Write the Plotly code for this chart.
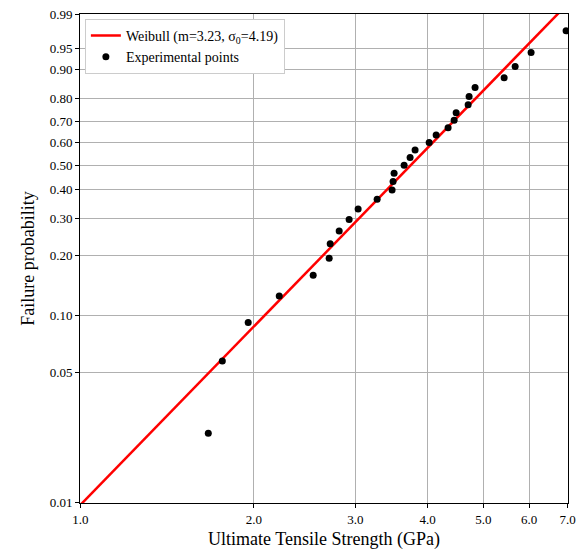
import numpy as np
import plotly.graph_objects as go

strength = [1.667, 1.763, 1.955, 2.213, 2.534, 2.701, 2.712, 2.811, 2.925, 3.032,
            3.271, 3.472, 3.486, 3.500, 3.643, 3.731, 3.806, 4.026, 4.140, 4.342,
            4.448, 4.484, 4.704, 4.722, 4.836, 5.431, 5.675, 6.048, 6.955]
prob = [0.0238, 0.0578, 0.0918, 0.1259, 0.1599, 0.1939, 0.2279, 0.2619, 0.2959, 0.3299,
        0.3639, 0.3980, 0.4320, 0.4660, 0.5000, 0.5340, 0.5680, 0.6020, 0.6361, 0.6701,
        0.7041, 0.7381, 0.7721, 0.8061, 0.8401, 0.8741, 0.9082, 0.9422, 0.9762]
m, s0 = 3.23, 4.19
x_ticks = [1.0, 2.0, 3.0, 4.0, 5.0, 6.0, 7.0]
y_ticks = [0.01, 0.05, 0.10, 0.20, 0.30, 0.40, 0.50, 0.60, 0.70, 0.80, 0.90, 0.95, 0.99]

def wt(p):
    p = np.asarray(p, dtype=float)
    return np.log(-np.log(1 - p))

xl = np.array([1.0, 7.0])
yl = m * (np.log(xl) - np.log(s0))

fig = go.Figure()
fig.add_trace(go.Scatter(x=xl, y=yl, mode="lines", line=dict(color="red", width=2.5),
                         name="Weibull (m=3.23, σ<sub>0</sub>=4.19)"))
fig.add_trace(go.Scatter(x=strength, y=wt(prob), mode="markers",
                         marker=dict(color="black", size=7), name="Experimental points"))
ax = dict(showline=True, linecolor="black", linewidth=1, mirror=True, ticks="outside",
          ticklen=4, tickcolor="black", showgrid=True, gridcolor="#b0b0b0", gridwidth=1,
          zeroline=False, automargin=False, ticklabeloverflow="allow",
          tickfont=dict(size=13, color="black"))
fig.update_xaxes(type="log", range=[-0.0005, np.log10(7) + 0.0005], tickvals=x_ticks,
                 ticktext=[f"{v:.1f}" for v in x_ticks],
                 title=dict(text="Ultimate Tensile Strength (GPa)", font=dict(size=18, color="black"), standoff=6), **ax)
fig.update_yaxes(range=[float(wt(0.01)) - 0.002, float(wt(0.99)) + 0.002], tickvals=wt(y_ticks).tolist(),
                 ticktext=[f"{v:.2f}" for v in y_ticks],
                 title=dict(text="Failure probability", font=dict(size=18, color="black"), standoff=10), **ax)
fig.update_layout(width=578, height=544, margin=dict(l=72, r=18, t=6, b=49, autoexpand=False),
                  paper_bgcolor="white", plot_bgcolor="white",
                  font=dict(family="Liberation Serif", color="black"),
                  legend=dict(x=0.01, y=0.99, xanchor="left", yanchor="top", bgcolor="white",
                              bordercolor="#cccccc", borderwidth=1, font=dict(size=14)),
                  showlegend=True)
fig.write_html("out.html")
